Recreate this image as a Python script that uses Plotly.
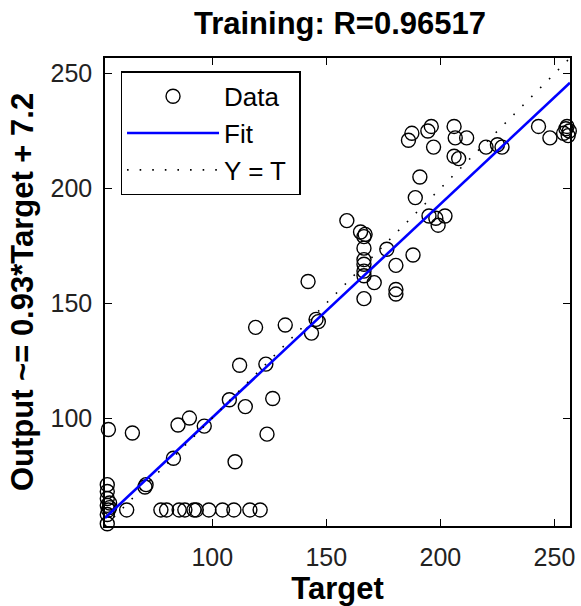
import plotly.graph_objects as go

# Data (Target, Output)
target = [186, 187.5, 194.5, 196, 197, 206, 206.5, 211.5, 206, 208,
          220, 225, 227, 243, 248, 254, 255, 256, 256.5, 255.5,
          191, 189, 195, 198, 202, 199, 159, 165, 167, 166.5,
          166.5, 166.5, 166.5, 166.5, 166.5, 176.5, 188, 180.5, 180.5, 180.5,
          171, 166.5, 142, 145.5, 146.5, 143.5, 119, 132, 112, 123.5,
          107.5, 114.5, 126.5, 90, 85, 96.5, 54.5, 65, 124, 83,
          110, 71, 70.5, 54, 54, 54, 54, 54.5, 54, 54,
          55, 55, 62.5, 77.5, 80, 85.5, 88, 92, 93, 98.5,
          104.5, 109.5, 116.5, 121]
output = [221, 224, 225, 227, 218, 227, 222, 222, 214, 213,
          218, 219, 218, 227, 222, 224, 226, 223, 225, 227,
          205, 196, 188, 187, 188, 184, 186, 181, 180, 179,
          174, 169, 167, 164, 162, 173.5, 171, 166.5, 156, 154,
          159, 152, 159.5, 143, 142, 137, 139.5, 140.5, 123, 123.5,
          108, 105, 108.5, 100, 97, 96.5, 95, 93.5, 93, 82.5,
          81, 71, 70, 71, 68, 65, 62, 60, 58, 54,
          61, 63, 60, 60, 60, 60, 60, 60, 60, 60,
          60, 60, 60, 60]

axis_min, axis_max = 53, 256.8
slope, intercept = 0.93, 7.2
line_x = [axis_min, axis_max]
fit_y = [slope * v + intercept for v in line_x]

tick_vals = [100, 150, 200, 250]
title_text = "Training: R=0.96517"
x_title = "Target"
y_title = "Output ~= 0.93*Target + 7.2"

fig = go.Figure()
fig.add_trace(go.Scatter(
    x=target, y=output, mode="markers", name="Data",
    marker=dict(symbol="circle-open", size=14, color="black",
                line=dict(width=1.4, color="black")),
    cliponaxis=False))
fig.add_trace(go.Scatter(
    x=line_x, y=fit_y, mode="lines", name="Fit",
    line=dict(color="#0000ff", width=2.6)))
fig.add_trace(go.Scatter(
    x=line_x, y=line_x, mode="lines", name="Y = T\u00a0",
    line=dict(color="black", width=1.6, dash="1.6px,11px")))

axis_common = dict(
    range=[axis_min, axis_max], tickvals=tick_vals,
    ticks="inside", ticklen=7, tickwidth=1.3, tickcolor="black",
    showline=True, linecolor="black", linewidth=1.5, mirror="ticks",
    showgrid=False, zeroline=False,
    tickfont=dict(family="Arial", size=25, color="#222"),
)

fig.update_layout(
    width=581, height=606,
    margin=dict(l=105, r=6, t=58, b=78),
    paper_bgcolor="white", plot_bgcolor="white",
    title=dict(text=title_text, x=(105 + 575) / 2 / 581, xanchor="center",
               y=1 - 23 / 606, yanchor="middle", yref="container",
               font=dict(family="Arial", size=31, color="black", weight="bold")),
    xaxis=dict(**axis_common, ticklabelstandoff=8,
               title=dict(text=x_title, standoff=8,
                          font=dict(family="Arial", size=31, color="black", weight="bold"))),
    yaxis=dict(**axis_common, ticklabelstandoff=6,
               title=dict(text=y_title, standoff=8,
                          font=dict(family="Arial", size=31, color="black", weight="bold"))),
    showlegend=True,
    legend=dict(x=0.0334, y=0.9715, xanchor="left", yanchor="top",
                bordercolor="black", borderwidth=1.5, bgcolor="white",
                font=dict(family="Arial", size=26, color="black"),
                itemwidth=92, tracegroupgap=0),
)

fig.write_html("out.html", config={"displayModeBar": False},
               post_script="document.body.style.margin='0';")
